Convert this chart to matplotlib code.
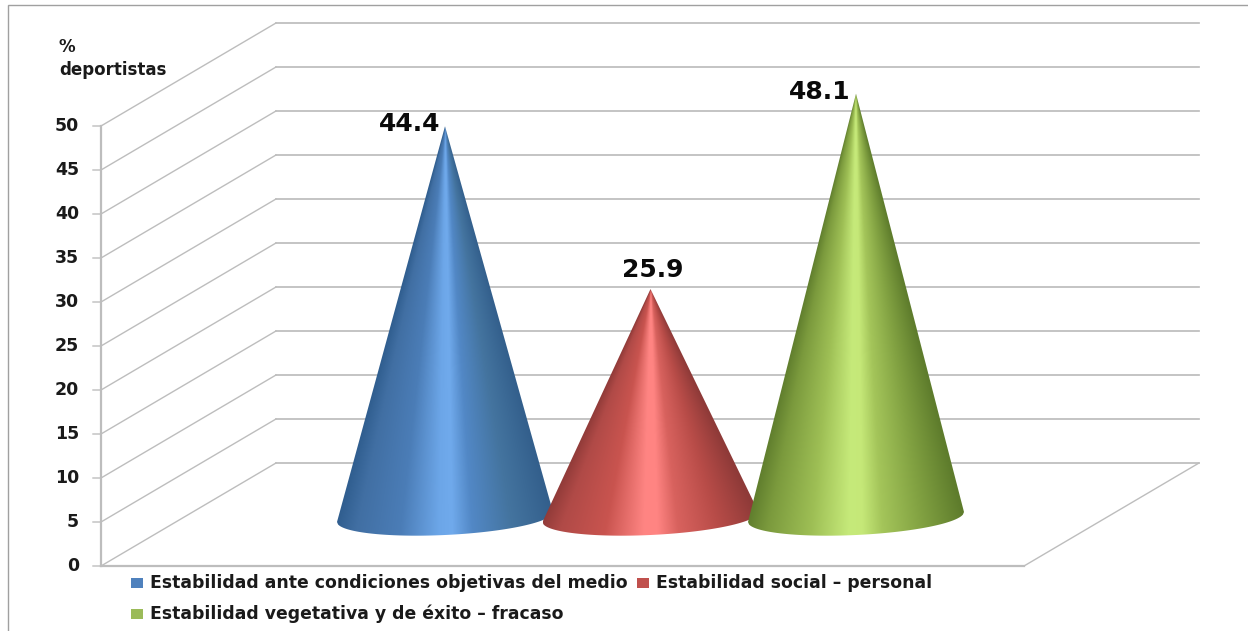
import matplotlib
matplotlib.use('Agg')
import matplotlib.pyplot as plt
from matplotlib.colors import LinearSegmentedColormap
from matplotlib.patches import Polygon, Rectangle
import numpy as np

# datos
categorias = ['Estabilidad ante condiciones objetivas del medio',
              'Estabilidad social – personal',
              'Estabilidad vegetativa y de éxito – fracaso']
valores = [44.4, 25.9, 48.1]
marcas = [0, 5, 10, 15, 20, 25, 30, 35, 40, 45, 50]
colores_leyenda = ['#4f81bd', '#c0504d', '#9bbb59']
paradas = [0, 0.1, 0.3, 0.47, 0.53, 0.62, 0.8, 1]
degradados = [
    ['#2f5d8e', '#416fa3', '#4b7db7', '#6ca6e8', '#70aaec', '#5288c6', '#44749f', '#335f8c'],
    ['#8f3a38', '#b04a47', '#c9544f', '#ff8583', '#ff8482', '#d8625e', '#b84c48', '#8e3a38'],
    ['#5f7d2d', '#7b9a3d', '#9ebf55', '#c6ea7a', '#c5e878', '#a4c55a', '#82a242', '#5e7c2c'],
]

# escala de pixeles del dibujo
W, H = 1248, 631
PX_Y = 8.8        # pixeles por unidad de valor
PX_X = 205.5      # pixeles entre categorias
X0, Y0 = 445, 566  # pixel de la categoria 0, valor 0
FONDO_X, FONDO_Y = 175 / PX_X, 103 / PX_Y  # desplazamiento de la pared del fondo

fig = plt.figure(figsize=(W / 100, H / 100), dpi=100)
ax = fig.add_axes([0, 0, 1, 1])
ax.set_xlim(-X0 / PX_X, (W - X0) / PX_X)
ax.set_ylim(-(H - Y0) / PX_Y, Y0 / PX_Y)
ax.axis('off')

gris = '#bdbdbd'
x_izq = (101 - X0) / PX_X
x_der = (1024 - X0) / PX_X

# marco exterior
ax.add_patch(Rectangle(((8 - X0) / PX_X, -(H - Y0) / PX_Y - 1), 1300 / PX_X, (H - 5) / PX_Y + 1,
                       fill=False, ec='#a0a0a0', lw=1.0, zorder=1))

# rejilla: pared lateral y pared del fondo
for v in marcas:
    ax.plot([x_izq - 8 / PX_X, x_izq, x_izq + FONDO_X],
            [v, v, v + FONDO_Y], color=gris, lw=1.0, zorder=2)
    ax.plot([x_izq + FONDO_X, x_der + FONDO_X],
            [v + FONDO_Y, v + FONDO_Y], color=gris, lw=1.25, zorder=2)
ax.plot([x_izq, x_izq], [0, 50], color=gris, lw=1.6, zorder=2)
ax.plot([x_izq, x_der], [0, 0], color=gris, lw=1.6, zorder=2)
ax.plot([x_der, x_der + FONDO_X], [0, FONDO_Y], color=gris, lw=1.0, zorder=2)

# conos
PROF = 49 / PX_Y   # altura del centro de la base sobre el eje
RADIO = 108 / PX_X
ELIPSE = 18 / PX_Y
INCL = 5 / PX_Y
desp_x = [-35, 2, -36]
pos_y = [124, 270, 92]

for i, v in enumerate(valores):
    u = np.linspace(-1, 1, 200)
    borde_x = i + RADIO * u
    borde_y = PROF - ELIPSE * np.sqrt(1 - u ** 2) + INCL * u
    vx = np.concatenate([[i], borde_x])
    vy = np.concatenate([[PROF + v], borde_y])
    cmap = LinearSegmentedColormap.from_list('c%d' % i, list(zip(paradas, degradados[i])))
    xs = np.linspace(i - RADIO, i + RADIO, 430)
    ys = np.linspace(PROF - ELIPSE - INCL, PROF + v, 900)
    gx, gy = np.meshgrid(xs, ys)
    # el degradado converge hacia la punta del cono
    alto = np.clip((PROF + v - gy) / v, 0.002, None)
    t = np.clip((gx - i) / (RADIO * alto), -1, 1)
    im = ax.imshow((t + 1) / 2, extent=[xs[0], xs[-1], ys[0], ys[-1]], origin='lower',
                   cmap=cmap, vmin=0, vmax=1, aspect='auto', interpolation='bilinear', zorder=3 + i)
    pol = Polygon(np.column_stack([vx, vy]), closed=True, fc='none', ec='none', transform=ax.transData)
    ax.add_patch(pol)
    im.set_clip_path(pol)
    ax.text(i + desp_x[i] / PX_X, (Y0 - pos_y[i]) / PX_Y, '%.1f' % v, ha='center', va='center',
            fontsize=18, fontweight='bold', color='#0a0a0a', zorder=10)

ax.set_xlim(-X0 / PX_X, (W - X0) / PX_X)
ax.set_ylim(-(H - Y0) / PX_Y, Y0 / PX_Y)

# etiquetas del eje
for v in marcas:
    ax.text(x_izq - 22 / PX_X, v, str(v), ha='right', va='center', fontsize=12.5, fontweight='bold', color='#1a1a1a')
ax.text((59 - X0) / PX_X, (Y0 - 47) / PX_Y, '%', ha='left', va='center', fontsize=12, fontweight='bold', color='#1a1a1a')
ax.text((59 - X0) / PX_X, (Y0 - 70) / PX_Y, 'deportistas', ha='left', va='center', fontsize=12, fontweight='bold', color='#1a1a1a')

# leyenda
pos_leyenda = [(131, 583), (637, 583), (131, 614)]
for (px, py), txt, col in zip(pos_leyenda, categorias, colores_leyenda):
    ax.add_patch(Rectangle(((px - X0) / PX_X, (Y0 - py - 5) / PX_Y), 12 / PX_X, 10 / PX_Y, fc=col, ec='none', zorder=5))
    ax.text((px + 19 - X0) / PX_X, (Y0 - py) / PX_Y, txt, ha='left', va='center', fontsize=12.4,
            fontweight='bold', color='#1a1a1a')

fig.savefig('out.png', dpi=100)
